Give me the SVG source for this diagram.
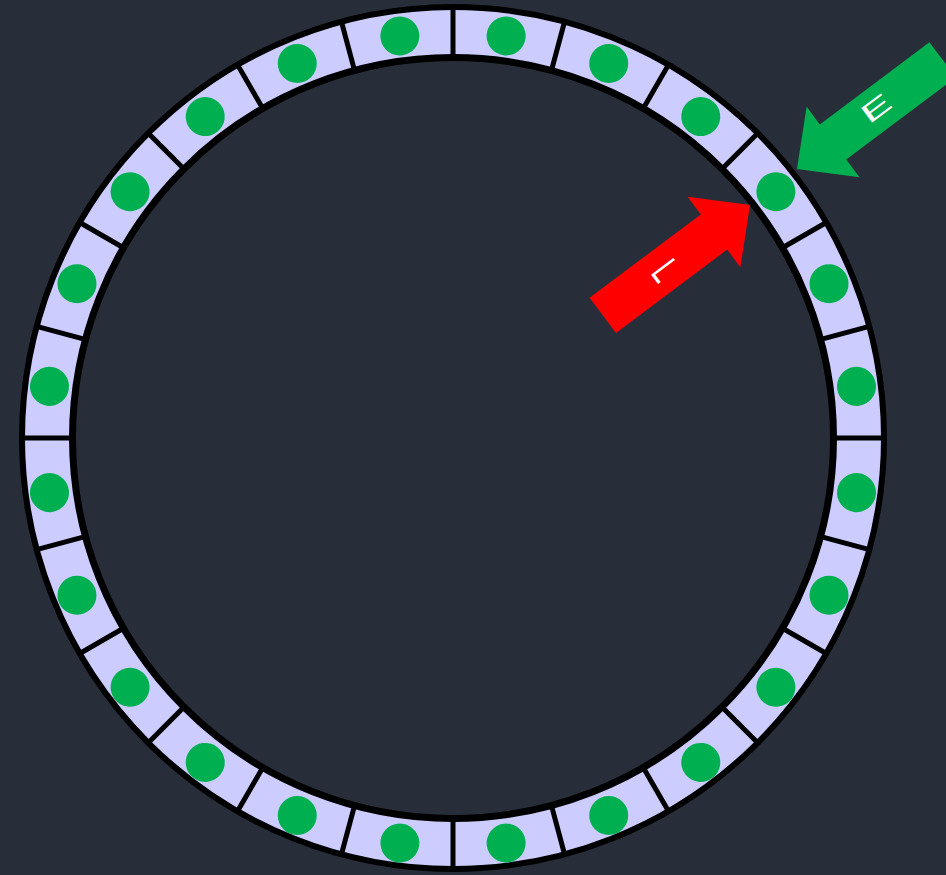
<svg xmlns="http://www.w3.org/2000/svg" xmlns:xlink="http://www.w3.org/1999/xlink" width="946" height="875" viewBox="0 0 946 875">
<style>
.bg{fill:#282e39}
.ring{fill:#ccccff;stroke:#000;stroke-width:6}
.hole{fill:#282e39;stroke:#000;stroke-width:7}
.div{stroke:#000;stroke-width:5}
.dot{fill:#00b050}
.lbl{fill:#fff;font-family:"Liberation Sans",Arial,sans-serif;font-size:26px;text-anchor:middle}
</style>
<defs>
<line id="divider" class="div" x1="453" y1="5" x2="453" y2="59"/>
<circle id="dot" class="dot" cx="453" cy="32.5" r="19.5"/>
</defs>
<rect class="bg" x="0" y="0" width="946" height="875"/>
<g id="ring">
<circle class="ring" cx="453" cy="438" r="431"/>
<circle class="hole" cx="453" cy="438" r="380.5"/>
<g id="dividers">
<use xlink:href="#divider" transform="rotate(0 453 438)"/>
<use xlink:href="#divider" transform="rotate(15 453 438)"/>
<use xlink:href="#divider" transform="rotate(30 453 438)"/>
<use xlink:href="#divider" transform="rotate(45 453 438)"/>
<use xlink:href="#divider" transform="rotate(60 453 438)"/>
<use xlink:href="#divider" transform="rotate(75 453 438)"/>
<use xlink:href="#divider" transform="rotate(90 453 438)"/>
<use xlink:href="#divider" transform="rotate(105 453 438)"/>
<use xlink:href="#divider" transform="rotate(120 453 438)"/>
<use xlink:href="#divider" transform="rotate(135 453 438)"/>
<use xlink:href="#divider" transform="rotate(150 453 438)"/>
<use xlink:href="#divider" transform="rotate(165 453 438)"/>
<use xlink:href="#divider" transform="rotate(180 453 438)"/>
<use xlink:href="#divider" transform="rotate(195 453 438)"/>
<use xlink:href="#divider" transform="rotate(210 453 438)"/>
<use xlink:href="#divider" transform="rotate(225 453 438)"/>
<use xlink:href="#divider" transform="rotate(240 453 438)"/>
<use xlink:href="#divider" transform="rotate(255 453 438)"/>
<use xlink:href="#divider" transform="rotate(270 453 438)"/>
<use xlink:href="#divider" transform="rotate(285 453 438)"/>
<use xlink:href="#divider" transform="rotate(300 453 438)"/>
<use xlink:href="#divider" transform="rotate(315 453 438)"/>
<use xlink:href="#divider" transform="rotate(330 453 438)"/>
<use xlink:href="#divider" transform="rotate(345 453 438)"/>
</g>
</g>
<g id="slots">
<use id="slot-1" xlink:href="#dot" transform="rotate(7.5 453 439.5)"/>
<use id="slot-2" xlink:href="#dot" transform="rotate(22.5 453 439.5)"/>
<use id="slot-3" xlink:href="#dot" transform="rotate(37.5 453 439.5)"/>
<use id="slot-4" xlink:href="#dot" transform="rotate(52.5 453 439.5)"/>
<use id="slot-5" xlink:href="#dot" transform="rotate(67.5 453 439.5)"/>
<use id="slot-6" xlink:href="#dot" transform="rotate(82.5 453 439.5)"/>
<use id="slot-7" xlink:href="#dot" transform="rotate(97.5 453 439.5)"/>
<use id="slot-8" xlink:href="#dot" transform="rotate(112.5 453 439.5)"/>
<use id="slot-9" xlink:href="#dot" transform="rotate(127.5 453 439.5)"/>
<use id="slot-10" xlink:href="#dot" transform="rotate(142.5 453 439.5)"/>
<use id="slot-11" xlink:href="#dot" transform="rotate(157.5 453 439.5)"/>
<use id="slot-12" xlink:href="#dot" transform="rotate(172.5 453 439.5)"/>
<use id="slot-13" xlink:href="#dot" transform="rotate(187.5 453 439.5)"/>
<use id="slot-14" xlink:href="#dot" transform="rotate(202.5 453 439.5)"/>
<use id="slot-15" xlink:href="#dot" transform="rotate(217.5 453 439.5)"/>
<use id="slot-16" xlink:href="#dot" transform="rotate(232.5 453 439.5)"/>
<use id="slot-17" xlink:href="#dot" transform="rotate(247.5 453 439.5)"/>
<use id="slot-18" xlink:href="#dot" transform="rotate(262.5 453 439.5)"/>
<use id="slot-19" xlink:href="#dot" transform="rotate(277.5 453 439.5)"/>
<use id="slot-20" xlink:href="#dot" transform="rotate(292.5 453 439.5)"/>
<use id="slot-21" xlink:href="#dot" transform="rotate(307.5 453 439.5)"/>
<use id="slot-22" xlink:href="#dot" transform="rotate(322.5 453 439.5)"/>
<use id="slot-23" xlink:href="#dot" transform="rotate(337.5 453 439.5)"/>
<use id="slot-24" xlink:href="#dot" transform="rotate(352.5 453 439.5)"/>
</g>
<g id="connectors">
<g id="arrow-E">
<polygon fill="#00b050" points="797,169 806.6,106.8 819.8,124.4 929.4,42.2 955.8,77.4 846.2,159.6 859.4,177.2"/>
<text class="lbl" x="0" y="9.3" transform="translate(876,108) rotate(-36.87) scale(1.8,1)">E</text>
</g>
<g id="arrow-L">
<polygon fill="#ff0000" points="750,205 740.4,267.2 727.2,249.6 616,333 589.6,297.8 700.8,214.4 687.6,196.8"/>
<text class="lbl" x="0" y="9.3" transform="translate(666,270) rotate(53.13) scale(1,1.55)">L</text>
</g>
</g>
</svg>
